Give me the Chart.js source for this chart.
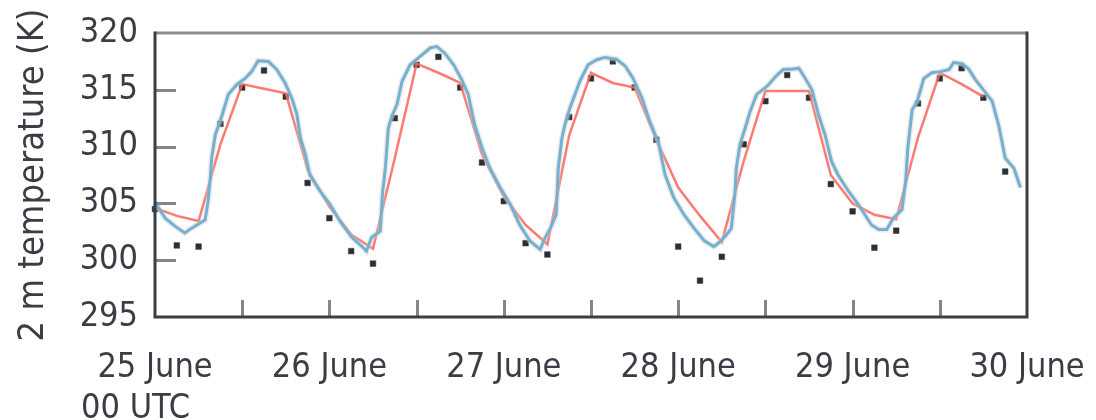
<!DOCTYPE html>
<html>
<head>
<meta charset="utf-8">
<script src="https://cdn.jsdelivr.net/npm/chart.js@4.4.1/dist/chart.umd.min.js"></script>
<style>
  html, body { margin: 0; padding: 0; background: #fff; }
  #wrap { width: 1096px; height: 420px; }
</style>
</head>
<body>
<div id="wrap"><canvas id="tempChart" width="1096" height="420"></canvas></div>
<script>
// hours since 25 June 00 UTC
var blueHours = [0, 1.4, 2.75, 4.1, 5, 6.9, 7.3, 7.6, 7.8, 8.3, 9.2, 10.1, 11.25, 12.4, 13.3, 14.2, 15.6, 16.75, 17.9, 18.8,
  19.5, 20, 20.7, 21.3, 22.7, 24.1, 25.5, 27.1, 28.5, 29.1, 29.8, 31, 31.3, 31.7, 32.1, 32.6, 33.3, 34, 35.1, 36.5,
  37.9, 38.8, 39.9, 41.1, 42.2, 43.1, 44, 45, 46.1, 47.5, 48.9, 50.2, 51.6, 53, 53.7, 54.4, 55.2, 55.5, 56, 56.4,
  57.1, 57.8, 58.5, 59.6, 60.8, 61.9, 63.5, 64.7, 65.8, 67, 68.1, 69.3, 70.2, 71.4, 72.8, 74.2, 75.6, 76.9, 77.7, 78.6,
  79.3, 79.8, 80, 80.5, 81.2, 81.9, 82.8, 84.2, 85.6, 86.5, 87.6, 88.6, 89.3, 90.4, 91.3, 92.2, 93.1, 94, 95.4, 96.8,
  97.7, 98.6, 99.6, 100.7, 101.6, 102.8, 103.3, 103.6, 104.2, 104.9, 105.8, 106.9, 108.1, 109.3, 109.9, 111.1, 112, 112.9, 114, 115.2,
  116.1, 117, 118.2, 119.1];
var blueTemp = [305.1, 303.7, 303.0, 302.4, 302.8, 303.55, 305.2, 307.2, 309.0, 311.05, 312.7, 314.6, 315.45, 316.0, 316.6, 317.55, 317.5, 316.8, 315.6, 314.3,
  312.9, 310.8, 309.3, 307.5, 306.1, 304.9, 303.4, 302.0, 301.2, 300.8, 302.0, 302.55, 305.8, 308.1, 311.6, 312.7, 313.7, 315.75, 317.2, 317.95,
  318.7, 318.8, 318.2, 317.2, 315.9, 314.6, 311.9, 309.9, 308.1, 306.4, 304.9, 303.1, 301.7, 300.95, 302.0, 302.8, 304.0, 308.1, 310.75, 311.9,
  313.4, 314.6, 315.8, 317.2, 317.65, 317.85, 317.7, 317.1, 316.0, 314.3, 312.2, 310.3, 307.5, 305.5, 304.0, 302.8, 301.7, 301.2, 301.6, 302.2,
  302.8, 305.8, 308.1, 310.2, 311.6, 313.1, 314.6, 315.3, 316.3, 316.8, 316.8, 316.9, 316.2, 315.0, 312.8, 311.05, 308.7, 307.5, 306.1, 304.9,
  304.0, 303.1, 302.7, 302.7, 303.7, 304.45, 306.95, 309.9, 313.25, 314.0, 316.0, 316.5, 316.6, 316.8, 317.4, 317.3, 316.8, 315.9, 315.0, 314.0,
  311.9, 309.0, 308.1, 306.4];

var redHours = [0, 3, 6, 9, 12, 15, 18, 21, 24, 27, 30, 33, 36, 39, 42, 45, 48, 51, 54, 57,
  60, 63, 66, 69, 72, 75, 78, 81, 84, 87, 90, 93, 96, 99, 102, 105, 108, 111, 114];
var redTemp = [304.6, 303.9, 303.45, 310.2, 315.5, 315.1, 314.7, 308.0, 304.7, 302.25, 301.0, 309.0, 317.3, 316.5, 315.6, 309.3, 305.6, 303.1, 301.4, 311.0,
  316.5, 315.6, 315.2, 310.6, 306.4, 303.9, 301.6, 308.7, 314.9, 314.9, 314.9, 307.5, 305.0, 304.0, 303.6, 310.8, 316.5, 315.5, 314.4];

var obsHours = [0, 3, 6, 9, 12, 15, 18, 21, 24, 27, 30, 33, 36, 39, 42, 45, 48, 51, 54, 57,
  60, 63, 66, 69, 72, 75, 78, 81, 84, 87, 90, 93, 96, 99, 102, 105, 108, 111, 114, 117];
var obsTemp = [304.5, 301.3, 301.2, 312.0, 315.2, 316.7, 314.4, 306.8, 303.7, 300.8, 299.7, 312.5, 317.2, 317.9, 315.2, 308.6, 305.2, 301.5, 300.5, 312.6,
  316.0, 317.5, 315.2, 310.6, 301.2, 298.2, 300.3, 310.2, 314.0, 316.3, 314.3, 306.7, 304.3, 301.1, 302.6, 313.8, 316.0, 316.9, 314.3, 307.8];

var dayHours = [0, 24, 48, 72, 96, 120];
var dayLabels = [['25 June', '00 UTC    '], '26 June', '27 June', '28 June', '29 June', '30 June'];
var yTicks = [295, 300, 305, 310, 315, 320];

var FONT = "'DejaVu Sans Condensed', 'Liberation Sans Narrow', sans-serif";
var TXT = '#3a3d44';

function pairs(xs, ys) {
  return xs.map(function (x, i) { return { x: x, y: ys[i] }; });
}

// inner tick marks + frame
var frame = {
  id: 'frame',
  afterDatasetsDraw: function (chart) {
    var ctx = chart.ctx, a = chart.chartArea;
    var xs = chart.scales.x, ys = chart.scales.y;
    ctx.save();
    ctx.lineWidth = 3;
    ctx.strokeStyle = '#858585';
    yTicks.forEach(function (v) {
      if (v === 295 || v === 320) return;
      var py = Math.round(ys.getPixelForValue(v)) + 0.5;
      ctx.beginPath(); ctx.moveTo(a.left, py); ctx.lineTo(a.left + 21, py); ctx.stroke();
    });
    xs.ticks.forEach(function (t) {
      if (t.value <= 0 || t.value >= 120) return;
      var px = Math.round(xs.getPixelForValue(t.value)) + 0.5;
      ctx.beginPath(); ctx.moveTo(px, a.bottom); ctx.lineTo(px, a.bottom - 17); ctx.stroke();
    });
    // top border (grey)
    ctx.strokeStyle = '#8c8c8c';
    ctx.beginPath(); ctx.moveTo(a.left, a.top); ctx.lineTo(a.right, a.top); ctx.stroke();
    // left, bottom, right (dark)
    ctx.strokeStyle = '#3b3e44';
    ctx.beginPath();
    ctx.moveTo(a.left, a.top - 1.5); ctx.lineTo(a.left, a.bottom); ctx.lineTo(a.right, a.bottom); ctx.lineTo(a.right, a.top - 1.5);
    ctx.stroke();
    ctx.restore();
  }
};

var chart = new Chart(document.getElementById('tempChart'), {
  type: 'line',
  data: {
    datasets: [
      {
        label: 'spread',
        data: pairs(blueHours, blueTemp),
        borderColor: 'rgba(205,205,205,0.4)',
        borderWidth: 6,
        pointRadius: 0,
        tension: 0
      },
      {
        label: 'model',
        data: pairs(blueHours, blueTemp),
        borderColor: '#3a9ed4',
        borderWidth: 3,
        pointRadius: 0,
        tension: 0
      },
      {
        label: 'forecast',
        data: pairs(redHours, redTemp),
        borderColor: 'rgba(250,100,90,0.85)',
        borderWidth: 2.5,
        pointRadius: 0,
        tension: 0
      },
      {
        label: 'obs',
        data: pairs(obsHours, obsTemp),
        showLine: false,
        pointStyle: 'rect',
        pointRadius: 4,
        pointBackgroundColor: '#2b2f36',
        pointBorderColor: 'rgba(60,60,60,0.5)',
        pointBorderWidth: 1,
        clip: false
      }
    ]
  },
  options: {
    responsive: false,
    animation: false,
    events: [],
    layout: { padding: { top: 33, right: 69, left: 0, bottom: 0 } },
    plugins: { legend: { display: false }, tooltip: { enabled: false } },
    scales: {
      x: {
        type: 'linear',
        min: 0,
        max: 120,
        afterFit: function (s) { s.height = 103; s.paddingLeft = 0; s.paddingRight = 0; },
        afterBuildTicks: function (s) {
          var t = [];
          for (var h = 0; h <= 120; h += 12) t.push({ value: h });
          s.ticks = t;
        },
        border: { display: false },
        grid: { display: false },
        ticks: {
          autoSkip: false,
          maxRotation: 0,
          padding: 23,
          color: TXT,
          font: { family: FONT, size: 34 },
          callback: function (v) {
            var i = dayHours.indexOf(v);
            return i >= 0 ? dayLabels[i] : '';
          }
        }
      },
      y: {
        min: 295,
        max: 320,
        afterFit: function (s) { s.width = 155; s.paddingTop = 0; s.paddingBottom = 0; },
        border: { display: false },
        grid: { display: false, drawTicks: false },
        ticks: {
          stepSize: 5,
          padding: 17,
          color: TXT,
          font: { family: FONT, size: 34 }
        },
        title: {
          display: true,
          text: '2 m temperature (K)',
          color: TXT,
          font: { family: FONT, size: 36 },
          padding: { top: 12, bottom: 0 }
        }
      }
    }
  },
  plugins: [frame]
});
</script>
</body>
</html>
